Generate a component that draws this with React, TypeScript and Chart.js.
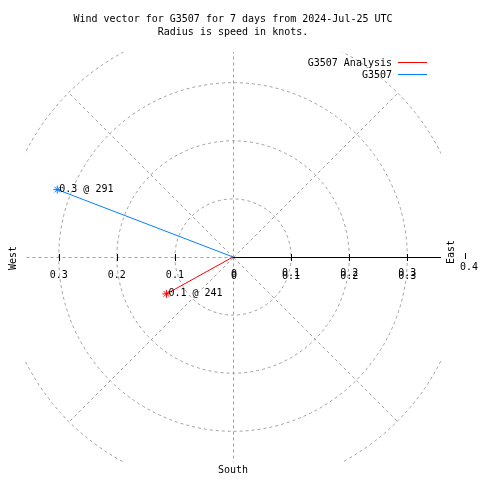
import React, { useEffect, useRef } from "react";
import { Chart, registerables } from "chart.js";

Chart.register(...registerables);

const titleLines = ["Wind vector for G3507 for 7 days from 2024-Jul-25 UTC", "Radius is speed in knots."];
const seriesNames = ["G3507 Analysis", "G3507"];
const seriesColors = ["#ff0000", "#0080ff"];
const speeds = [0.131, 0.324];
const directions = [241, 291];
const ringValues = [0.1, 0.2, 0.3, 0.4];
const tickValues = [0.1, 0.2, 0.3];
const spokeAngles = [0, 45, 90, 135, 180, 225, 270, 315];
const FONT = "10px 'DejaVu Sans Mono'";

function toXY(speed: number, dir: number) {
  const a = (dir * Math.PI) / 180;
  return { x: speed * Math.sin(a), y: speed * Math.cos(a) };
}

const polarPlugin = {
  id: "polarDecor",
  beforeDatasetsDraw(chart: any) {
    const { ctx, chartArea } = chart;
    const xs = chart.scales.x;
    const ys = chart.scales.y;
    const cx = xs.getPixelForValue(0);
    const cy = ys.getPixelForValue(0);
    const ppu = xs.getPixelForValue(1) - cx;
    ctx.save();
    ctx.beginPath();
    ctx.rect(chartArea.left, chartArea.top, chartArea.right - chartArea.left, chartArea.bottom - chartArea.top);
    ctx.clip();
    ctx.strokeStyle = "#a0a0a0";
    ctx.lineWidth = 1;
    ctx.setLineDash([3, 3]);
    for (const r of ringValues) {
      ctx.beginPath();
      ctx.arc(cx, cy, r * ppu, 0, Math.PI * 2);
      ctx.stroke();
    }
    const maxR = ringValues[ringValues.length - 1] * ppu;
    for (const a of spokeAngles) {
      const rad = (a * Math.PI) / 180;
      ctx.beginPath();
      ctx.moveTo(cx + 0.5, cy + 0.5);
      ctx.lineTo(cx + 0.5 + maxR * Math.sin(rad), cy + 0.5 - maxR * Math.cos(rad));
      ctx.stroke();
    }
    ctx.restore();

    ctx.save();
    ctx.setLineDash([]);
    ctx.strokeStyle = "#000000";
    ctx.lineWidth = 1;
    ctx.beginPath();
    ctx.moveTo(cx, Math.round(cy) + 0.5);
    ctx.lineTo(chartArea.right, Math.round(cy) + 0.5);
    ctx.stroke();
    for (const t of tickValues) {
      for (const s of [-1, 1]) {
        const px = Math.round(xs.getPixelForValue(s * t)) + 0.5;
        ctx.beginPath();
        ctx.moveTo(px, cy - 3);
        ctx.lineTo(px, cy + 4);
        ctx.stroke();
      }
    }
    ctx.beginPath();
    ctx.moveTo(465.5, 253);
    ctx.lineTo(465.5, 259);
    ctx.stroke();
    ctx.restore();
  },
  afterDatasetsDraw(chart: any) {
    const { ctx, chartArea } = chart;
    const xs = chart.scales.x;
    const ys = chart.scales.y;
    const cx = xs.getPixelForValue(0);
    const cy = ys.getPixelForValue(0);
    ctx.save();
    ctx.font = FONT;
    ctx.fillStyle = "#000000";
    ctx.textBaseline = "middle";
    ctx.textAlign = "center";
    ctx.fillText(titleLines[0], cx, 19);
    ctx.fillText(titleLines[1], cx, 32);

    // legend
    ctx.textAlign = "right";
    seriesNames.forEach((n, i) => {
      const y = 63 + i * 12;
      ctx.fillStyle = "#000000";
      ctx.fillText(n, chartArea.right - 49, y);
      ctx.strokeStyle = seriesColors[i];
      ctx.lineWidth = 1;
      ctx.beginPath();
      ctx.moveTo(chartArea.right - 43, y - 0.5);
      ctx.lineTo(chartArea.right - 14, y - 0.5);
      ctx.stroke();
    });

    // axis labels
    ctx.fillStyle = "#000000";
    ctx.textAlign = "center";
    ctx.fillText("0", cx + 1, cy + 17);
    ctx.fillText("0", cx + 1, cy + 19);
    for (const t of tickValues) {
      ctx.fillText(String(t), xs.getPixelForValue(-t), cy + 18);
      ctx.fillText(String(t), xs.getPixelForValue(t), cy + 16);
      ctx.fillText(String(t), xs.getPixelForValue(t), cy + 19);
    }
    ctx.fillText("0.4", 469, cy + 10);
    ctx.fillText("South", cx, 470);

    ctx.save();
    ctx.translate(13, cy + 1);
    ctx.rotate(-Math.PI / 2);
    ctx.fillText("West", 0, 0);
    ctx.restore();
    ctx.save();
    ctx.translate(451, cy - 5);
    ctx.rotate(-Math.PI / 2);
    ctx.fillText("East", 0, 0);
    ctx.restore();

    // point labels
    ctx.textAlign = "left";
    speeds.forEach((s, i) => {
      const p = toXY(s, directions[i]);
      const px = xs.getPixelForValue(p.x);
      const py = ys.getPixelForValue(p.y);
      ctx.fillText(`${s.toFixed(1)} @ ${directions[i]}`, px + 2, py);
    });
    ctx.restore();
  },
};

export default function App() {
  const ref = useRef<HTMLCanvasElement | null>(null);
  useEffect(() => {
    if (!ref.current) return;
    const datasets = seriesNames.map((name, i) => {
      const p = toXY(speeds[i], directions[i]);
      return {
        label: name,
        data: [{ x: 0, y: 0 }, p],
        showLine: true,
        borderColor: seriesColors[i],
        backgroundColor: seriesColors[i],
        borderWidth: 1,
        pointRadius: [0, 4],
        pointStyle: "star",
        pointBorderColor: seriesColors[i],
        pointBorderWidth: 1,
        clip: false as any,
      };
    });
    const chart = new Chart(ref.current, {
      type: "scatter",
      data: { datasets },
      options: {
        responsive: false,
        animation: false,
        layout: { padding: { left: 25, right: 39, top: 52, bottom: 18 } },
        scales: {
          x: { type: "linear", min: -0.358, max: 0.358, display: false },
          y: { type: "linear", min: -0.353, max: 0.353, display: false },
        },
        plugins: { legend: { display: false }, tooltip: { enabled: false } },
      },
      plugins: [polarPlugin],
    } as any);
    return () => chart.destroy();
  }, []);
  return (
    <div style={{ position: "fixed", left: 0, top: 0, width: 480, height: 480, background: "#fff" }}>
      <canvas ref={ref} width={480} height={480} style={{ width: 480, height: 480 }} />
    </div>
  );
}
